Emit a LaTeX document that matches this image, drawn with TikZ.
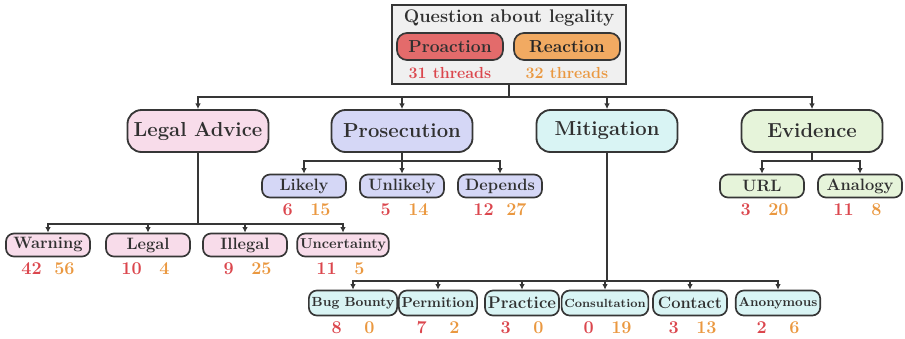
\documentclass[tikz,border=0pt]{standalone}
\usetikzlibrary{positioning,arrows.meta}

\definecolor{linec}{HTML}{363636}
\definecolor{txtc}{HTML}{303030}
\definecolor{boxc}{HTML}{F0F0F0}
\definecolor{proc}{HTML}{DB464D}
\definecolor{reac}{HTML}{EA9840}
\definecolor{profill}{HTML}{E36B6B}
\definecolor{reafill}{HTML}{F1AA62}
\definecolor{pinkc}{HTML}{F8DCEA}
\definecolor{lavc}{HTML}{D5D7F6}
\definecolor{cyanc}{HTML}{D9F4F4}
\definecolor{greenc}{HTML}{E6F4DA}

\tikzset{
  cat/.style = {draw=linec, line width=1.3pt, rounded corners=0.35cm,
                minimum width=3.525cm, minimum height=1.05cm, text=txtc,
                font=\fontsize{14.4}{16}\selectfont\bfseries},
  leaf/.style = {draw=linec, line width=1.2pt, rounded corners=0.2cm,
                 minimum width=2.1cm, minimum height=0.575cm,
                 inner xsep=2pt, inner ysep=0pt, text=txtc,
                 font=\fontsize{#1}{13}\selectfont\bfseries},
  leaf/.default = 11.7,
  mleaf/.style = {leaf=#1, minimum width=1.85cm, minimum height=0.625cm},
  mleaf/.default = 11.7,
  pill/.style = {draw=linec, line width=1.2pt, rounded corners=0.25cm,
                 minimum width=2.65cm, minimum height=0.675cm, text=txtc,
                 font=\fontsize{12.4}{14}\selectfont\bfseries},
  pro/.style = {text=proc, inner sep=0pt, font=\fontsize{12.8}{14}\selectfont\bfseries},
  rea/.style = {pro, text=reac},
  link/.style = {draw=linec, line width=1.3pt},
  arr/.style = {link, -{Latex[length=4pt,width=4pt]}}
}

% two thread counts under a leaf
\newcommand{\counts}[3]{%
  \node[pro, below=0.12cm of #1.south, xshift=-0.41cm] (#1p) {#2};
  \node[rea, below=0.12cm of #1.south, xshift=0.41cm] (#1r) {#3};}

\begin{document}
\begin{tikzpicture}[x=0.025cm, y=-0.025cm]
  \useasboundingbox (0,0) rectangle (905,338);

  % question box
  \node[draw=linec, line width=1.3pt, fill=boxc, minimum width=5.85cm,
        minimum height=1.975cm] (root) at (509,44.5) {};
  \node[text=txtc, font=\fontsize{13}{15}\selectfont\bfseries] (title) at (509,18) {Question about legality};
  \node[pill, fill=profill] (proa) at (450,46.5) {Proaction};
  \node[pill, fill=reafill, text=black!85] (reac) at (567,46.5) {Reaction};
  \node[pro, font=\fontsize{11.4}{13}\selectfont\bfseries] (prothr) at (450,73) {31 threads};
  \node[rea, font=\fontsize{11.4}{13}\selectfont\bfseries] (reathr) at (567,73) {32 threads};

  % categories
  \node[cat, fill=pinkc] (legal) at (198,131) {Legal Advice};
  \node[cat, fill=lavc] (prosec) at (402,131) {Prosecution};
  \node[cat, fill=cyanc] (mitig) at (607,131) {Mitigation};
  \node[cat, fill=greenc] (evid) at (812,131) {Evidence};

  \coordinate (b0) at ([yshift=-0.3cm]root.south);
  \draw[link] (root.south) -- (b0);
  \foreach \n in {legal,prosec,mitig,evid} \draw[arr] (b0) -| (\n.north);

  % legal advice
  \node[leaf, fill=pinkc] (warn) at (48,245) {Warning};
  \node[leaf, fill=pinkc] (lgl) at (148,245) {Legal};
  \node[leaf, fill=pinkc] (illg) at (245,245) {Illegal};
  \node[leaf=10.2, fill=pinkc] (unc) at (343,245) {Uncertainty};
  \coordinate (b1) at ([yshift=-1.775cm]legal.south);
  \draw[link] (legal.south) -- (b1);
  \foreach \n in {warn,lgl,illg,unc} \draw[arr] (b1) -| (\n.north);
  \counts{warn}{42}{56}
  \counts{lgl}{10}{4}
  \counts{illg}{9}{25}
  \counts{unc}{11}{5}

  % prosecution
  \node[leaf, fill=lavc] (likely) at (304,186) {Likely};
  \node[leaf, fill=lavc] (unlik) at (402,186) {Unlikely};
  \node[leaf, fill=lavc] (depends) at (500,186) {Depends};
  \coordinate (b2) at ([yshift=-0.2cm]prosec.south);
  \draw[link] (prosec.south) -- (b2);
  \foreach \n in {likely,unlik,depends} \draw[arr] (b2) -| (\n.north);
  \counts{likely}{6}{15}
  \counts{unlik}{5}{14}
  \counts{depends}{12}{27}

  % mitigation
  \node[mleaf=9.4, fill=cyanc] (bug) at (353,303) {Bug Bounty};
  \node[mleaf=10.3, fill=cyanc] (perm) at (438,303) {Permition};
  \node[mleaf=12, fill=cyanc] (pract) at (522,303) {Practice};
  \node[mleaf=8.4, fill=cyanc] (consult) at (605,303) {Consultation};
  \node[mleaf, fill=cyanc] (contact) at (690,303) {Contact};
  \node[mleaf=9.2, fill=cyanc] (anon) at (778,303) {Anonymous};
  \coordinate (b3) at ([yshift=-3.2cm]mitig.south);
  \draw[link] (mitig.south) -- (b3);
  \foreach \n in {bug,perm,pract,consult,contact,anon} \draw[arr] (b3) -| (\n.north);
  \counts{bug}{8}{0}
  \counts{perm}{7}{2}
  \counts{pract}{3}{0}
  \counts{consult}{0}{19}
  \counts{contact}{3}{13}
  \counts{anon}{2}{6}

  % evidence
  \node[leaf, fill=greenc] (url) at (762,186) {URL};
  \node[leaf, fill=greenc] (analogy) at (860,186) {Analogy};
  \coordinate (b4) at ([yshift=-0.2cm]evid.south);
  \draw[link] (evid.south) -- (b4);
  \foreach \n in {url,analogy} \draw[arr] (b4) -| (\n.north);
  \counts{url}{3}{20}
  \counts{analogy}{11}{8}
\end{tikzpicture}
\end{document}
